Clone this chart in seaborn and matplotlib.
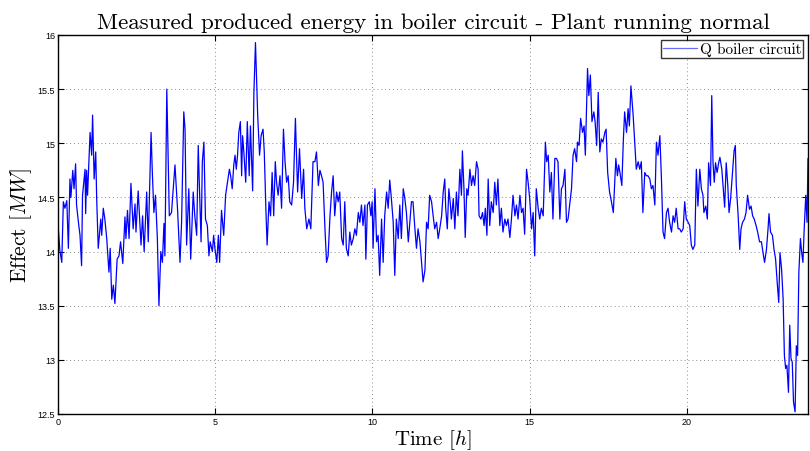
import numpy as np
import pandas as pd
import matplotlib
matplotlib.use('Agg')
import matplotlib.pyplot as plt
import seaborn as sns

# time [h] and effect [MW]
time_h = [
    0.01, 0.06, 0.12, 0.17, 0.22, 0.28, 0.33, 0.38, 0.41, 0.47, 0.51, 0.56, 0.59, 0.65, 0.70,
    0.75, 0.78, 0.86, 0.88, 0.91, 0.94, 1.02, 1.07, 1.10, 1.15, 1.20, 1.23, 1.28, 1.36, 1.39,
    1.44, 1.49, 1.55, 1.62, 1.66, 1.71, 1.76, 1.81, 1.88, 1.94, 1.99, 2.06, 2.13, 2.16, 2.21,
    2.26, 2.32, 2.39, 2.45, 2.48, 2.55, 2.64, 2.69, 2.74, 2.82, 2.87, 2.92, 2.96, 3.00, 3.05,
    3.10, 3.16, 3.21, 3.27, 3.32, 3.37, 3.40, 3.46, 3.54, 3.61, 3.68, 3.72, 3.80, 3.88, 3.93,
    4.00, 4.04, 4.09, 4.16,
    4.22, 4.30, 4.35, 4.41, 4.46, 4.49, 4.55, 4.59, 4.64, 4.69, 4.75, 4.80, 4.84, 4.91, 4.95,
    4.99, 5.05, 5.10, 5.14, 5.20, 5.27, 5.33, 5.39, 5.45, 5.49, 5.54, 5.59, 5.63, 5.67, 5.71,
    5.75, 5.80, 5.84, 5.87, 5.91, 5.97, 6.02, 6.08, 6.12, 6.19, 6.23, 6.28, 6.35, 6.41, 6.46,
    6.52, 6.56, 6.61, 6.65, 6.71, 6.76, 6.81, 6.86, 6.91, 6.95, 7.00, 7.06, 7.11, 7.17, 7.22,
    7.27, 7.32, 7.37, 7.43, 7.49, 7.55, 7.62, 7.68, 7.75, 7.81, 7.85, 7.91, 7.98, 8.04, 8.11,
    8.17, 8.22, 8.28, 8.33, 8.38, 8.43, 8.49, 8.54, 8.59, 8.65, 8.70, 8.75, 8.80, 8.86, 8.91,
    8.96, 9.02, 9.07, 9.12, 9.17, 9.23, 9.28, 9.33, 9.39, 9.44, 9.49, 9.55, 9.60, 9.65, 9.70,
    9.76, 9.79, 9.84, 9.90, 9.95, 9.99, 10.02, 10.08, 10.13, 10.18, 10.23, 10.29, 10.34, 10.39,
    10.45, 10.50, 10.55, 10.61, 10.66, 10.71, 10.76, 10.82, 10.87, 10.92, 10.98, 11.03, 11.08,
    11.14, 11.19, 11.24, 11.29, 11.35, 11.40, 11.45, 11.51, 11.56, 11.61, 11.67, 11.72, 11.77,
    11.82, 11.88, 11.93, 11.98, 12.04, 12.09, 12.14, 12.20, 12.25, 12.30,
    12.33, 12.38, 12.43, 12.48, 12.51, 12.57, 12.62, 12.67, 12.72, 12.78, 12.83, 12.86, 12.91,
    12.95, 13.00, 13.04, 13.10, 13.15, 13.20, 13.25, 13.31, 13.36, 13.39, 13.45, 13.50, 13.55,
    13.59, 13.64, 13.68, 13.73, 13.78, 13.84, 13.89, 13.94, 13.99, 14.05, 14.10, 14.15, 14.21,
    14.26, 14.31, 14.37, 14.42, 14.47, 14.53, 14.58, 14.63, 14.69, 14.74, 14.79, 14.84, 14.90,
    14.95, 15.00, 15.06, 15.11, 15.16, 15.21, 15.27, 15.32, 15.37, 15.43, 15.50, 15.54, 15.59,
    15.64, 15.69, 15.74, 15.80, 15.85, 15.90, 15.96, 16.01, 16.06, 16.12, 16.17, 16.22, 16.27,
    16.33, 16.38,
    16.43, 16.49, 16.52, 16.57, 16.62, 16.68, 16.73, 16.77, 16.84, 16.88, 16.93, 16.98, 17.04,
    17.08, 17.13, 17.18, 17.23, 17.28, 17.33, 17.39, 17.43, 17.48, 17.54, 17.60, 17.66, 17.70,
    17.74, 17.79, 17.83, 17.87, 17.93, 17.98, 18.02, 18.08, 18.13, 18.17, 18.22, 18.29, 18.34,
    18.39, 18.45, 18.50, 18.55, 18.60, 18.66, 18.71, 18.76, 18.82, 18.87, 18.92, 18.98, 19.03,
    19.08, 19.14, 19.19, 19.24, 19.29, 19.35, 19.40, 19.45, 19.51, 19.56, 19.61, 19.66, 19.72,
    19.77, 19.82, 19.88, 19.93, 19.98, 20.04, 20.09, 20.14, 20.19, 20.25, 20.30, 20.35, 20.41,
    20.46, 20.51, 20.54, 20.60, 20.65, 20.69, 20.75, 20.79, 20.83, 20.87, 20.91, 20.96, 21.01,
    21.05, 21.11, 21.15, 21.20, 21.25, 21.30, 21.34, 21.39, 21.45, 21.50, 21.54, 21.57, 21.63,
    21.68, 21.72, 21.77, 21.83, 21.88, 21.93, 21.99, 22.04, 22.09, 22.14, 22.20, 22.25, 22.31,
    22.37, 22.42, 22.47, 22.53, 22.58, 22.61, 22.66, 22.72, 22.77, 22.82, 22.87, 22.92, 22.96,
    23.01, 23.06, 23.10, 23.14, 23.18, 23.23, 23.27, 23.31, 23.35, 23.39, 23.44, 23.48, 23.52,
    23.56, 23.61, 23.65, 23.69, 23.73, 23.78, 23.82, 23.85,
]

effect_mw = [
    14.21, 14.01, 13.90, 14.46, 14.40, 14.47, 14.03, 14.67, 14.50, 14.75, 14.58, 14.81, 14.43, 14.27, 14.15,
    13.87, 14.52, 14.76, 14.35, 14.75, 14.52, 15.10, 14.89, 15.26, 14.67, 14.92, 14.49, 14.03, 14.30, 14.15,
    14.40, 14.30, 14.12, 13.81, 14.03, 13.56, 13.69, 13.52, 13.93, 13.96, 14.09, 13.89, 14.32, 14.12, 14.38,
    14.12, 14.63, 14.21, 14.44, 14.18, 14.56, 14.06, 14.33, 14.00, 14.55, 14.09, 14.67, 15.10, 14.73, 14.36,
    14.52, 14.12, 13.50, 14.00, 13.90, 14.26, 13.96, 15.50, 14.33, 14.36, 14.64, 14.80, 14.40, 13.90, 14.27,
    15.29, 15.13, 14.06, 14.58,
    13.93, 14.55, 14.33, 14.15, 14.98, 14.67, 14.09, 14.83, 15.01, 14.30, 14.24, 13.96, 14.09, 14.00, 14.15,
    14.03, 13.90, 14.15, 13.90, 14.38, 14.15, 14.52, 14.64, 14.76, 14.70, 14.58, 14.80, 14.89, 14.76, 14.89,
    15.10, 15.20, 14.70, 15.07, 14.92, 14.64, 15.20, 14.70, 15.16, 14.56, 15.47, 15.93, 15.26, 14.89, 15.07,
    15.13, 14.92, 14.40, 14.06, 14.46, 14.33, 14.73, 14.33, 14.83, 14.64, 14.52, 14.70, 14.40, 15.13, 14.83,
    14.64, 14.70, 14.46, 14.43, 14.64, 15.23, 14.55, 14.95, 14.49, 14.76, 14.40, 14.21, 14.30, 14.21, 14.83,
    14.83, 14.92, 14.61, 14.75, 14.70, 14.64, 14.21, 13.90, 13.96, 14.33, 14.55, 14.70, 14.33, 14.55, 14.46,
    14.55, 14.12, 14.06, 14.46, 14.03, 13.96, 14.18, 14.06, 14.12, 14.21, 14.15, 14.36, 14.27, 14.43, 14.24,
    14.43, 13.93, 14.43, 14.46, 14.33, 14.46, 14.03, 14.58, 14.09, 14.15, 13.78, 14.30, 13.90, 14.33,
    14.55, 14.40, 14.66, 14.46, 14.27, 13.78, 14.30, 14.12, 14.43, 14.12, 14.58, 14.49, 14.36,
    14.09, 14.27, 14.46, 14.46, 14.21, 14.03, 14.21, 14.09, 13.90, 13.72, 13.83, 14.27, 14.21,
    14.52, 14.46, 14.33, 14.21, 14.27, 14.12, 14.21, 14.33, 14.55, 14.67,
    14.40, 14.21, 14.58, 14.43, 14.30, 14.49, 14.21, 14.55, 14.33, 14.76, 14.52, 14.93, 14.58,
    14.13, 14.58, 14.52, 14.76, 14.61, 14.70, 14.61, 14.83, 14.76, 14.33, 14.30, 14.36, 14.24,
    14.40, 14.15, 14.67, 14.24, 14.46, 14.36, 14.64, 14.43, 14.67, 14.24, 14.40, 14.18, 14.30,
    14.24, 14.30, 14.13, 14.30, 14.52, 14.33, 14.43, 14.30, 14.52, 14.36, 14.40, 14.16, 14.76,
    14.64, 14.49, 14.21, 14.36, 13.96, 14.58, 14.40, 14.30, 14.40, 14.33, 15.01, 14.83, 14.89,
    14.55, 14.73, 14.30, 14.86, 14.86, 14.83, 14.30, 14.58, 14.61, 14.76, 14.27, 14.30, 14.43,
    14.58, 14.89,
    14.95, 14.83, 15.01, 14.98, 15.23, 15.10, 15.16, 14.89, 15.69, 15.44, 15.63, 15.20, 15.29,
    15.20, 14.98, 15.47, 14.92, 15.04, 15.01, 15.10, 15.13, 14.73, 14.55, 14.46, 14.36, 14.61,
    14.86, 14.70, 14.80, 14.73, 14.61, 15.04, 15.29, 15.10, 15.32, 15.16, 15.53, 15.26, 15.01,
    14.76, 14.83, 14.76, 14.83, 14.36, 14.73, 14.70, 14.70, 14.67, 14.58, 14.61, 14.43, 15.01,
    14.89, 15.07, 14.67, 14.18, 14.12, 14.36, 14.40, 14.27, 14.18, 14.33, 14.27, 14.40, 14.21,
    14.21, 14.18, 14.21, 14.46, 14.30, 14.27, 14.24, 14.06, 14.02, 14.06, 14.76, 14.42, 14.76,
    14.58, 14.52, 14.36, 14.42, 14.30, 14.82, 14.61, 15.44, 14.82, 14.64, 14.82, 14.73, 14.82,
    14.87, 14.76, 14.61, 14.41, 14.82, 14.61, 14.36, 14.49, 14.73, 14.93, 14.98, 14.61, 14.33,
    14.02, 14.21, 14.27, 14.30, 14.36, 14.52, 14.39, 14.42, 14.33, 14.30, 14.24, 14.18, 14.09,
    14.09, 13.99, 13.90, 14.02, 14.21, 14.35, 14.18, 14.15, 14.02, 13.93, 13.72, 13.53, 13.99,
    13.84, 13.56, 13.04, 12.92, 12.95, 12.70, 13.32, 13.01, 12.98, 12.61, 12.52, 13.13, 13.04,
    13.81, 14.12, 13.99, 13.90, 14.21, 14.52, 14.27, 14.86,
]

x_ticks = [0, 5, 10, 15, 20]
y_ticks = [12.5, 13, 13.5, 14, 14.5, 15, 15.5, 16]
y_tick_labels = ['12.5', '13', '13.5', '14', '14.5', '15', '15.5', '16']

df = pd.DataFrame({'Time': time_h, 'Effect': effect_mw})

sns.set_style('ticks')
plt.rcParams['mathtext.fontset'] = 'cm'
plt.rcParams['axes.formatter.use_mathtext'] = True
for key in ['text.color', 'axes.labelcolor', 'xtick.color', 'ytick.color', 'axes.edgecolor']:
    plt.rcParams[key] = 'black'

fig, ax = plt.subplots(figsize=(8.1, 4.52), dpi=100)
fig.subplots_adjust(left=0.0716, right=0.9975, top=0.9204, bottom=0.0819)

sns.lineplot(data=df, x='Time', y='Effect', color='blue', linewidth=0.9,
             estimator=None, sort=False, label='Q boiler circuit', ax=ax)

ax.set_xlim(0, 23.85)
ax.set_ylim(12.5, 16)
ax.set_xticks(x_ticks)
ax.set_xticklabels([str(t) for t in x_ticks])
ax.set_yticks(y_ticks)
ax.set_yticklabels(y_tick_labels)
ax.grid(True, linestyle=(0, (1, 3)), color='#8c8c8c', linewidth=0.7)
ax.tick_params(direction='in', length=4, width=0.8, top=True, right=True,
               labelsize=6.5, pad=2, colors='black')
for lab in ax.get_xticklabels() + ax.get_yticklabels():
    lab.set_family(['Liberation Sans', 'DejaVu Sans'])
for sp in ax.spines.values():
    sp.set_linewidth(1.0)
    sp.set_color('black')

ax.set_title('Measured produced energy in boiler circuit - Plant running normal',
             fontsize=16.6, family='cmr10', pad=5, color='black')
ax.set_xlabel('Time [$h$]', fontsize=15, family='cmr10', labelpad=1)
ax.set_ylabel('Effect [$MW$]', fontsize=15.5, family='cmr10', labelpad=3)

leg = ax.legend(loc='upper right', prop={'family': 'cmr10', 'size': 11},
                frameon=True, fancybox=False, edgecolor='black',
                borderaxespad=0.3, borderpad=0.15, handlelength=2.2,
                handletextpad=0.2)
leg.get_frame().set_linewidth(1.0)
for h in leg.get_lines():
    h.set_color('#6b6bff')

fig.savefig('out.png', dpi=100)
